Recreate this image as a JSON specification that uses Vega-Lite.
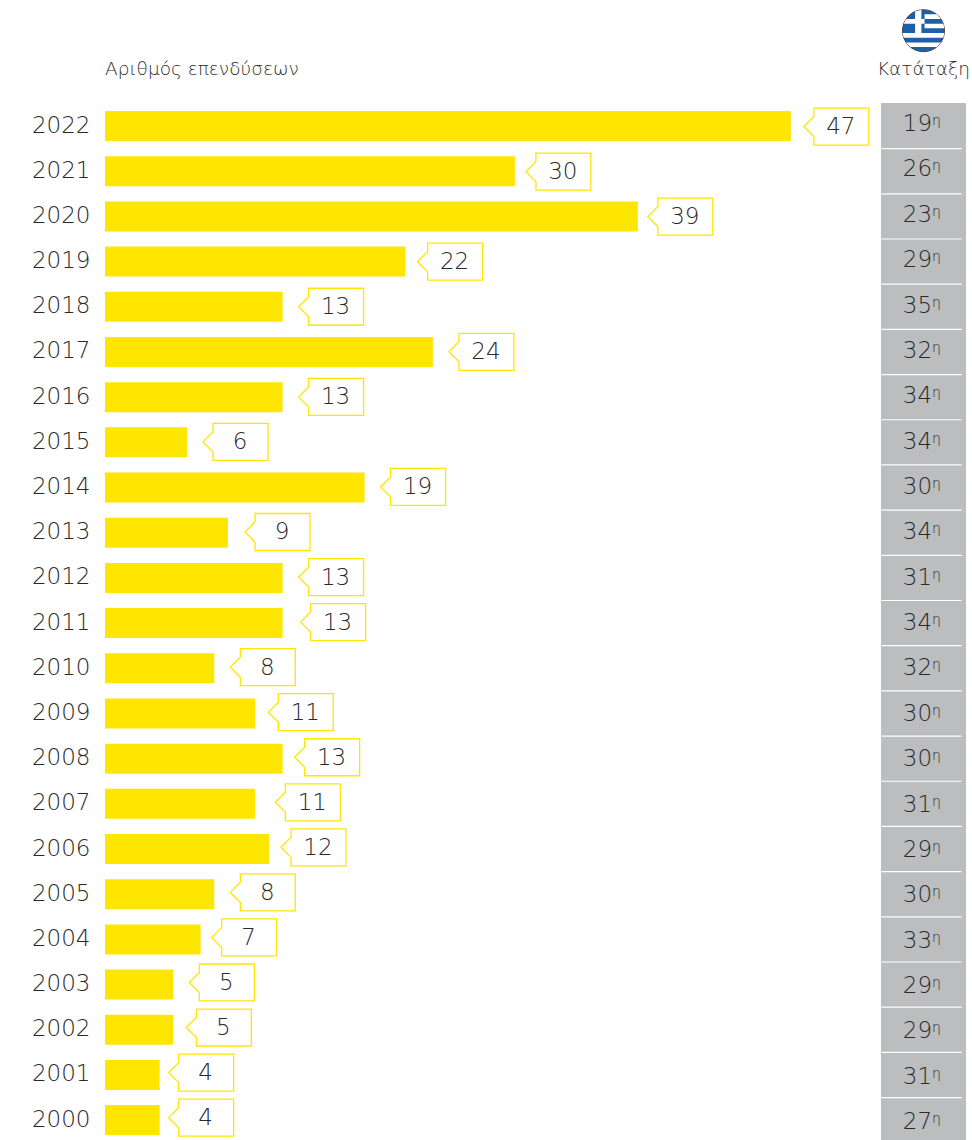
{
"$schema":"https://vega.github.io/schema/vega-lite/v6.json",
"padding":{"left":31,"top":7,"right":0,"bottom":0},
"background":"white",
"bounds":"flush",
"spacing":0,
"params":[{"name":"gap","value":{"2022":13,"2021":11,"2020":10,"2019":12,"2018":16,"2017":16,"2016":16,"2015":16,"2014":16,"2013":17,"2012":16,"2011":18,"2010":16,"2009":13,"2008":12,"2007":20,"2006":12,"2005":16,"2004":11,"2003":16,"2002":13,"2001":9,"2000":9}}],
"config":{"view":{"stroke":null},"font":"DejaVu Sans"},
"datasets":{"rows":[
{"year":2022,"investments":47,"bar_length":50.2,"rank":19},
{"year":2021,"investments":30,"bar_length":30,"rank":26},
{"year":2020,"investments":39,"bar_length":39,"rank":23},
{"year":2019,"investments":22,"bar_length":22,"rank":29},
{"year":2018,"investments":13,"bar_length":13,"rank":35},
{"year":2017,"investments":24,"bar_length":24,"rank":32},
{"year":2016,"investments":13,"bar_length":13,"rank":34},
{"year":2015,"investments":6,"bar_length":6,"rank":34},
{"year":2014,"investments":19,"bar_length":19,"rank":30},
{"year":2013,"investments":9,"bar_length":9,"rank":34},
{"year":2012,"investments":13,"bar_length":13,"rank":31},
{"year":2011,"investments":13,"bar_length":13,"rank":34},
{"year":2010,"investments":8,"bar_length":8,"rank":32},
{"year":2009,"investments":11,"bar_length":11,"rank":30},
{"year":2008,"investments":13,"bar_length":13,"rank":30},
{"year":2007,"investments":11,"bar_length":11,"rank":31},
{"year":2006,"investments":12,"bar_length":12,"rank":29},
{"year":2005,"investments":8,"bar_length":8,"rank":30},
{"year":2004,"investments":7,"bar_length":7,"rank":33},
{"year":2003,"investments":5,"bar_length":5,"rank":29},
{"year":2002,"investments":5,"bar_length":5,"rank":29},
{"year":2001,"investments":4,"bar_length":4,"rank":31},
{"year":2000,"investments":4,"bar_length":4,"rank":27}
]},
"hconcat":[
{
"width":776,"height":1037,
"layer":[
{"data":{"name":"rows"},"mark":{"type":"bar","color":"#FFE600","size":30,"orient":"horizontal"},
 "encoding":{
 "y":{"field":"year","type":"quantitative","stack":null,"scale":{"domain":[1999.56,2022.51],"nice":false,"zero":false,"padding":0},
  "axis":{"title":null,"domain":false,"ticks":false,"grid":false,"labelPadding":15,"labelOffset":-1,"labelFontSize":23,"labelFontWeight":200,"labelColor":"#2a2a2a","format":"d",
  "values":[2022,2021,2020,2019,2018,2017,2016,2015,2014,2013,2012,2011,2010,2009,2008,2007,2006,2005,2004,2003,2002,2001,2000]}},
 "x":{"field":"bar_length","type":"quantitative","stack":null,"scale":{"domain":[0,56.8],"nice":false},"axis":null}}},
{"data":{"name":"rows"},"mark":{"type":"point","filled":true,"fill":"white","stroke":"#FFE600","strokeWidth":1.3,"opacity":1,"size":4225,
  "shape":"M-1 0L-.69 -.31L-.69 -.569L1 -.569L1 .569L-.69 .569L-.69 .31Z",
  "xOffset":{"expr":"gap[datum.year]+32.5"},"yOffset":{"expr":"0.5-(2022-datum.year)*0.136"}},
 "encoding":{"y":{"field":"year","type":"quantitative"},"x":{"field":"bar_length","type":"quantitative"}}},
{"data":{"name":"rows"},"mark":{"type":"text","fontSize":23,"fontWeight":200,"color":"#2a2a2a","align":"center","baseline":"middle",
  "xOffset":{"expr":"gap[datum.year]+37"},"yOffset":{"expr":"1-(2022-datum.year)*0.136"}},
 "encoding":{"y":{"field":"year","type":"quantitative"},"x":{"field":"bar_length","type":"quantitative"},"text":{"field":"investments","type":"quantitative"}}},
{"data":{"values":[{"label":"Αριθμός επενδύσεων"}]},
 "mark":{"type":"text","fontSize":18.5,"fontWeight":200,"color":"#2a2a2a","align":"left","baseline":"middle"},
 "encoding":{"y":{"datum":2023.26,"type":"quantitative"},"x":{"datum":0,"type":"quantitative"},"text":{"field":"label"}}}
]
},
{
"width":85,"height":1037,
"layer":[
{"data":{"name":"rows"},"mark":{"type":"bar","color":"#BCBDBF","size":46,"clip":true,"orient":"horizontal"},
 "encoding":{"y":{"field":"year","type":"quantitative","stack":null,"scale":{"domain":[1999.56,2022.51],"nice":false,"zero":false,"padding":0},"axis":null}}},
{"data":{"name":"rows"},"mark":{"type":"tick","orient":"horizontal","color":"white","thickness":1.2,"size":80,"opacity":1,"xOffset":-2,"yOffset":22.6},
 "encoding":{"y":{"field":"year","type":"quantitative"}}},
{"data":{"name":"rows"},"mark":{"type":"text","fontSize":23,"fontWeight":200,"color":"#2a2a2a","align":"center","baseline":"middle","xOffset":-6,"yOffset":{"expr":"-2+(2022-datum.year)*0.18"}},
 "encoding":{"y":{"field":"year","type":"quantitative"},"text":{"field":"rank","type":"quantitative"}}},
{"data":{"name":"rows"},"mark":{"type":"text","fontSize":14,"fontWeight":200,"color":"#2a2a2a","align":"center","baseline":"middle","xOffset":13,"yOffset":{"expr":"-5+(2022-datum.year)*0.18"},"text":"η"},
 "encoding":{"y":{"field":"year","type":"quantitative"}}},
{"data":{"values":[{"label":"Κατάταξη"}]},
 "mark":{"type":"text","fontSize":18.5,"fontWeight":200,"color":"#2a2a2a","align":"center","baseline":"middle"},
 "encoding":{"y":{"datum":2023.26,"type":"quantitative"},"text":{"field":"label"}}},
{"data":{"values":[{"flag":"Greece"}]},
 "mark":{"type":"point","filled":true,"fill":"#1E5FA8","stroke":"#444444","strokeWidth":1,"opacity":1,"shape":"circle","size":1764},
 "encoding":{"y":{"datum":2024.11,"type":"quantitative"}}},
{"data":{"values":[{"flag":"Greece"}]},
 "mark":{"type":"point","filled":true,"fill":"white","strokeWidth":0,"opacity":1,"size":1764,
  "shape":"M.05 -.778L.628 -.778L.831 -.556L.05 -.556ZM.05 -.333L.943 -.333L.994 -.111L.05 -.111ZM-.994 .111L.994 .111L.943 .333L-.943 .333ZM-.831 .556L.831 .556L.628 .778L-.628 .778ZM-.4 -.917L-.1 -.995L-.1 .111L-.4 .111ZM-.831 -.556L.05 -.556L.05 -.333L-.943 -.333Z"},
 "encoding":{"y":{"datum":2024.11,"type":"quantitative"}}}
]
}
]
}
